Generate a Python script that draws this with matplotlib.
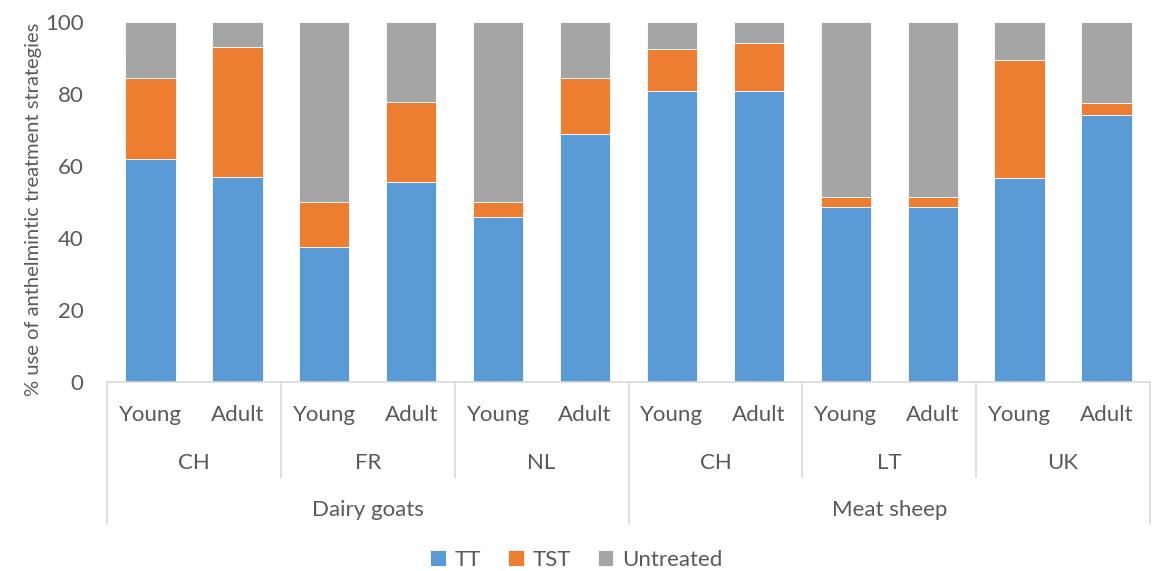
import numpy as np
import matplotlib
matplotlib.use("Agg")
import matplotlib.pyplot as plt

# DATA
ages = ["Young", "Adult"] * 6
countries = ["CH", "FR", "NL", "CH", "LT", "UK"]
groups = ["Dairy goats", "Meat sheep"]
tt = [62.0, 57.0, 37.5, 55.6, 45.8, 68.7, 80.8, 80.8, 48.6, 48.6, 56.5, 74.2]
tst = [22.5, 36.1, 12.5, 22.2, 4.2, 15.7, 11.5, 13.4, 2.7, 2.7, 32.8, 3.1]
untreated = [15.5, 6.9, 50.0, 22.2, 50.0, 15.6, 7.7, 5.8, 48.7, 48.7, 10.7, 22.7]

plt.rcParams['font.family'] = ['Lato', 'DejaVu Sans']
txt = "#595959"
line_col = "#D9D9D9"

fig = plt.figure(figsize=(11.53, 5.71), dpi=100)
ax = fig.add_axes([107/1153, 1 - 382/571, (1150 - 107)/1153, (382 - 21.7)/571])

x = np.arange(len(tt))
tt = np.array(tt)
tst = np.array(tst)
untreated = np.array(untreated)
w = 0.58
b1 = ax.bar(x, tt, w, color="#5B9BD5", edgecolor="white", linewidth=0.6, label="TT")
b2 = ax.bar(x, tst, w, bottom=tt, color="#ED7D31", edgecolor="white", linewidth=0.6, label="TST")
b3 = ax.bar(x, untreated, w, bottom=tt + tst, color="#A5A5A5", edgecolor="white", linewidth=0.6, label="Untreated")

ax.set_xlim(-0.5, len(tt) - 0.5)
ax.set_ylim(0, 100)
ax.set_yticks(np.arange(0, 101, 20))
ax.tick_params(axis="y", length=0, labelsize=16, labelcolor=txt, pad=17)
ax.set_xticks([])
for s in ["top", "right", "left"]:
    ax.spines[s].set_visible(False)
ax.spines["bottom"].set_color(line_col)
ax.spines["bottom"].set_linewidth(1.2)
ax.set_ylabel("% use of anthelmintic treatment strategies", fontsize=14.5, color=txt)
ax.yaxis.set_label_coords(-0.062, 0.478)

# multi-level category axis
trans = ax.get_xaxis_transform()
for i, a in enumerate(ages):
    ax.text(x[i], -0.092, a, transform=trans, ha="center", va="center", fontsize=16, color=txt)
for j, c in enumerate(countries):
    ax.text(2 * j + 0.5, -0.225, c, transform=trans, ha="center", va="center", fontsize=16, color=txt)
for k, g in enumerate(groups):
    ax.text(6 * k + 2.5, -0.355, g, transform=trans, ha="center", va="center", fontsize=16, color=txt)

for b in np.arange(-0.5, len(tt), 2):
    bottom = -0.394 if b in (-0.5, 5.5, 11.5) else -0.264
    ax.plot([b, b], [0, bottom], transform=trans, color=line_col, lw=1.2, clip_on=False)

fig.legend(handles=[b1, b2, b3], loc="center", bbox_to_anchor=(0.5, 0.02), ncol=3,
           frameon=False, fontsize=16, labelcolor=txt, handlelength=0.7, handleheight=0.7,
           handletextpad=0.4, columnspacing=1.2)

fig.savefig("out.png", dpi=100)
